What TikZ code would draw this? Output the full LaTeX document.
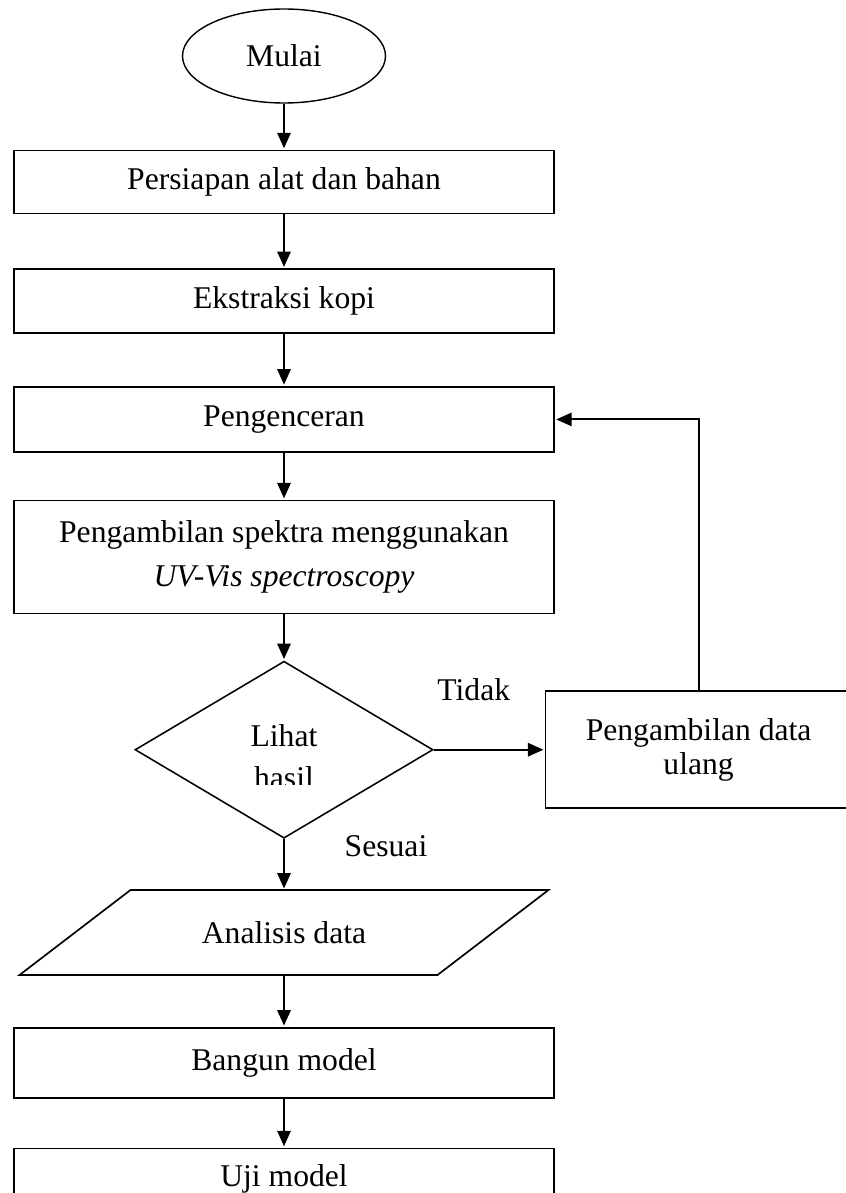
\documentclass[tikz,border=0pt]{standalone}
\usepackage{fontspec}
\setmainfont{Liberation Serif}
\usetikzlibrary{arrows.meta,positioning,calc,shapes.geometric}

\begin{document}
\begin{tikzpicture}[
    font=\fontsize{22.5}{27}\selectfont,
    proses/.style={draw, line width=1.2pt, minimum width=13.5cm, inner sep=0pt, align=center},
    keputusan/.style={draw, diamond, line width=1.1pt, minimum width=7.45cm, minimum height=4.425cm, inner sep=0pt},
    inout/.style={minimum width=10.45cm, minimum height=2.125cm, inner sep=0pt, outer sep=0pt},
    panah/.style={-{Triangle[length=11pt,width=9.5pt]}, line width=1.4pt, shorten >=1pt},
    garis/.style={line width=1.2pt}
  ]
    \useasboundingbox (0,0) rectangle (21.125,-29.825);
    \node[draw, ellipse, line width=1pt, minimum width=5.075cm, minimum height=2.35cm, inner sep=0pt] (mulai) at (7.1,-1.4) {Mulai};
    \node[proses, minimum height=1.575cm, below=1.15cm of mulai] (persiapan) {Persiapan alat dan bahan};
    \node[proses, minimum height=1.6cm, below=1.35cm of persiapan] (ekstraksi) {Ekstraksi kopi};
    \node[proses, minimum height=1.625cm, below=1.3cm of ekstraksi] (encer) {Pengenceran};
    \node[proses, minimum height=2.825cm, font=\fontsize{22.5}{31.3}\selectfont, below=1.175cm of encer] (spektra) {Pengambilan spektra menggunakan\\\textit{UV-Vis spectroscopy}};
    \node[keputusan, below=1.15cm of spektra] (dia) {};
    \node[draw, line width=1.2pt, minimum width=7.65cm, minimum height=2.925cm, inner sep=0pt, align=center, font=\fontsize{22.5}{24}\selectfont, right=2.775cm of dia] (ulang) {Pengambilan data\\ulang};
    \node[inout, below=1.275cm of dia] (analisis) {Analisis data};
    \node[proses, minimum height=1.75cm, below=1.3cm of analisis] (bangun) {Bangun model};
    \node[proses, minimum height=1.53cm, below=1.225cm of bangun] (uji) {Uji model};

    % teks keputusan, terpotong di bawah
    \begin{scope}
      \clip ($(dia.west)+(0,2.3)$) rectangle ($(dia.east)+(0,-0.8625)$);
      \node[align=center, font=\fontsize{22.5}{30}\selectfont, yshift=-0.17cm] (lihat) at (dia) {Lihat\\hasil};
    \end{scope}
    \node[anchor=base] (tidak) at ($(dia.east)+(1.0,1.24)$) {Tidak};
    \node[anchor=base] (sesuai) at ($(dia.south)+(2.55,-0.425)$) {Sesuai};

    % jajaran genjang
    \draw[garis] ($(analisis.north west)+(1.3875,0)$) -- ($(analisis.north east)+(1.3875,0)$)
      -- ($(analisis.south east)+(-1.3875,0)$) -- ($(analisis.south west)+(-1.3875,0)$) -- cycle;

    \draw[panah] (mulai) -- (persiapan);
    \draw[panah] (persiapan) -- (ekstraksi);
    \draw[panah] (ekstraksi) -- (encer);
    \draw[panah] (encer) -- (spektra);
    \draw[panah] (spektra) -- (dia);
    \draw[panah] (dia.east) -- (ulang.west);
    \draw[panah] (ulang.north) |- (encer.east);
    \draw[panah] (dia.south) -- (analisis.north);
    \draw[panah] (analisis) -- (bangun);
    \draw[panah] (bangun) -- (uji);
  \end{tikzpicture}
\end{document}
